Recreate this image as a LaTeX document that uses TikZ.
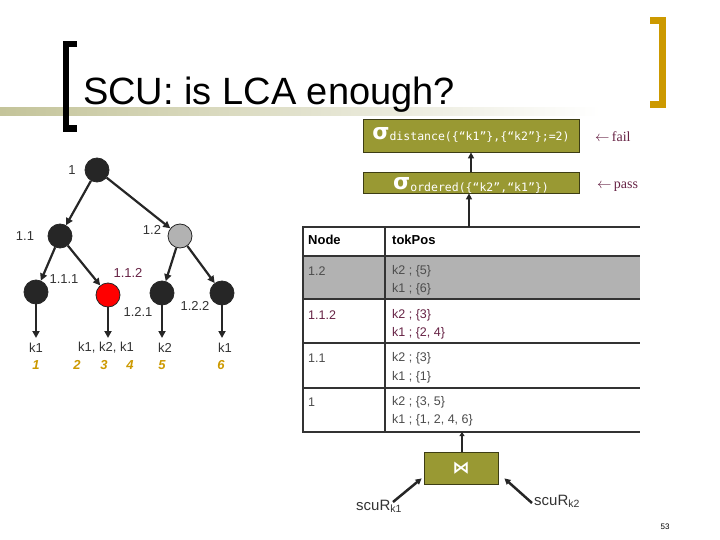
\documentclass[tikz,border=0pt]{standalone}
\usepackage{fontspec}
\setmainfont{Liberation Sans}
\newfontfamily\serifrm{Liberation Serif}
\newfontfamily\monotx{DejaVu Sans Mono}
\newfontfamily\symtx{DejaVu Sans}
\usetikzlibrary{arrows.meta, calc}
\definecolor{Csel}{HTML}{999933}
\definecolor{Bsel}{HTML}{3D3D14}
\definecolor{Cgold}{HTML}{CC9900}
\definecolor{Cmar}{HTML}{662244}
\definecolor{Cband}{HTML}{C4C49A}
\colorlet{Cdark}{black!85}
\colorlet{Cgrey}{black!30}
\tikzset{
  tnode/.style  = {circle, draw=Cdark, fill=Cdark, minimum size=24pt,
                   inner sep=0pt, line width=0.8pt},
  tlab/.style   = {font=\fontsize{13}{13}\selectfont, text=black!80,
                   inner sep=0pt},
  posnum/.style = {font=\fontsize{13}{13}\selectfont\bfseries\itshape,
                   text=Cgold, inner sep=0pt},
  edge/.style   = {-{Triangle[length=7pt,width=7pt]}, line width=2.2pt, Cdark},
  selbox/.style = {draw=Bsel, fill=Csel, line width=0.8pt, minimum width=216pt,
                   inner sep=0pt, text=white},
  arr/.style    = {-{Triangle[length=6pt,width=6pt]}, line width=2.5pt, Cdark},
  tline/.style  = {line width=2.4pt, black!80},
  cell/.style   = {anchor=west, inner sep=0pt,
                   font=\fontsize{12.5}{12.5}\selectfont, text=black!70},
  note/.style   = {font=\serifrm\fontsize{14}{14}\selectfont, text=Cmar,
                   inner sep=0pt},
}
\newcommand{\sigsub}[3]{\smash{\raisebox{#1}{\symtx\fontsize{22}{22}\selectfont\bfseries σ}%
  \raisebox{#2}{\monotx\fontsize{11.5}{11.5}\selectfont #3}}}
\begin{document}
\begin{tikzpicture}[x=1pt, y=-1pt]
\useasboundingbox (0,0) rectangle (720,540);

%%──────────────────────────────────────────────────
%% Title
%%──────────────────────────────────────────────────
\shade[left color=Cband, right color=white] (0,108) rectangle (600,116);
\draw[line width=6.5pt, black, miter limit=10] (77,44) -- (66,44) -- (66,128.5) -- (77,128.5);
\draw[line width=7pt, Cgold, miter limit=10] (650,20.5) -- (662.5,20.5) -- (662.5,105) -- (650,105);
\node[anchor=base west, inner sep=0pt, font=\fontsize{38}{38}\selectfont] (title)
  at (83,105) {SCU: is LCA enough?};

%%──────────────────────────────────────────────────
%% Tree
%%──────────────────────────────────────────────────
\node[tnode] (n1)   at (97,170) {};
\node[tnode] (n11)  at (60,236) {};
\node[tnode, fill=black!30] (n12) at (180,236) {};
\node[tnode] (n111) at (36,292) {};
\node[tnode, fill=red] (n112) at (108,295) {};
\node[tnode] (n121) at (162,293) {};
\node[tnode] (n122) at (222,293) {};

\node[tlab] (t1)   at (72,170)  {1};
\node[tlab] (t11)  at (25,236)  {1.1};
\node[tlab] (t12)  at (152,230) {1.2};
\node[tlab] (t111) at (64,279)  {1.1.1};
\node[tlab, text=Cmar] (t112) at (128,273) {1.1.2};
\node[tlab] (t121) at (138,312) {1.2.1};
\node[tlab] (t122) at (195,306) {1.2.2};

\coordinate (l1) at (36,338);
\coordinate (l2) at (108,338);
\coordinate (l3) at (162,338);
\coordinate (l4) at (222,338);

\draw[edge] (n1)   -- (n11);
\draw[edge] (n1)   -- (n12);
\draw[edge] (n11)  -- (n111);
\draw[edge] (n11)  -- (n112);
\draw[edge] (n12)  -- (n121);
\draw[edge] (n12)  -- (n122);
\draw[edge] (n111) -- (l1);
\draw[edge] (n112) -- (l2);
\draw[edge] (n121) -- (l3);
\draw[edge] (n122) -- (l4);

\node[tlab] (k1a) at (36,348)  {k1};
\node[tlab] (k1b) at (106,348) {k1, k2, k1};
\node[tlab] (k2a) at (165,348) {k2};
\node[tlab] (k1c) at (225,348) {k1};

\node[posnum] (p1) at (36,365)  {1};
\node[posnum] (p2) at (77,365)  {2};
\node[posnum] (p3) at (104,365) {3};
\node[posnum] (p4) at (130,365) {4};
\node[posnum] (p5) at (162,365) {5};
\node[posnum] (p6) at (221,365) {6};

%%──────────────────────────────────────────────────
%% Selections
%%──────────────────────────────────────────────────
\node[selbox, minimum height=33pt] (sigd) at (471,135.5)
  {\sigsub{-4.2pt}{-5.5pt}{distance(\{“k1”\},\{“k2”\};=2)}};
\node[selbox, minimum height=21pt] (sigo) at (471,182.5)
  {\sigsub{-6.5pt}{-9pt}{ordered(\{“k2”,“k1”\})}};
\node[note, anchor=west] (fail) at (595,137) {$\leftarrow$\,fail};
\node[note, anchor=west] (pass) at (597,187) {$\leftarrow$\,pass};

\draw[arr] (sigo) -- (sigd);

%%──────────────────────────────────────────────────
%% Table
%%──────────────────────────────────────────────────
\fill[Cgrey] (303,256) rectangle (640,299);
\foreach \yy in {227,256,299,343,388,432}
  \draw[tline] (302,\yy) -- (640,\yy);
\draw[tline] (303,227) -- (303,432);
\draw[tline] (385,227) -- (385,432);
\coordinate (tbltop) at (469,227);
\coordinate (tblbot) at (462,432);

\node[cell, text=black, font=\fontsize{13}{13}\selectfont\bfseries] (hnode) at (308,240) {Node};
\node[cell, text=black, font=\fontsize{13}{13}\selectfont\bfseries] (hpos)  at (392,240) {tokPos};

\node[cell] (r1a) at (308,271) {1.2};
\node[cell] (r1b) at (392,271) {k2 ; \{5\}};
\node[cell] (r1c) at (392,289) {k1 ; \{6\}};

\node[cell, text=Cmar] (r2a) at (308,315) {1.1.2};
\node[cell, text=Cmar] (r2b) at (392,315) {k2 ; \{3\}};
\node[cell, text=Cmar] (r2c) at (392,333) {k1 ; \{2, 4\}};

\node[cell] (r3a) at (308,358) {1.1};
\node[cell] (r3b) at (392,358) {k2 ; \{3\}};
\node[cell] (r3c) at (392,377) {k1 ; \{1\}};

\node[cell] (r4a) at (308,402) {1};
\node[cell] (r4b) at (392,402) {k2 ; \{3, 5\}};
\node[cell] (r4c) at (392,420) {k1 ; \{1, 2, 4, 6\}};

\draw[arr] (tbltop) -- (tbltop |- sigo.south);

%%──────────────────────────────────────────────────
%% Join
%%──────────────────────────────────────────────────
\node[selbox, minimum width=74pt, minimum height=32pt,
      font=\symtx\fontsize{17}{17}\selectfont\bfseries] (join) at (461,468) {⋈};
\draw[arr, line width=2pt, -{Triangle[length=4pt,width=5pt]}] (join.north -| tblbot) -- (tblbot);

\node[inner sep=0pt, anchor=base west, font=\fontsize{15}{15}\selectfont, text=black!80] (scu1)
  at (356,510) {scuR\textsubscript{k1}};
\node[inner sep=0pt, anchor=base west, font=\fontsize{15}{15}\selectfont, text=black!80] (scu2)
  at (534,505) {scuR\textsubscript{k2}};
\draw[arr] ($(scu1.base west)+(37,-8)$) -- ($(join.south west)+(-2,-6)$);
\draw[arr] ($(scu2.base west)+(-2,-2)$) -- ($(join.south east)+(6,-6)$);

\node[font=\fontsize{8}{8}\selectfont] (pgno) at (665,527) {53};

\end{tikzpicture}
\end{document}
